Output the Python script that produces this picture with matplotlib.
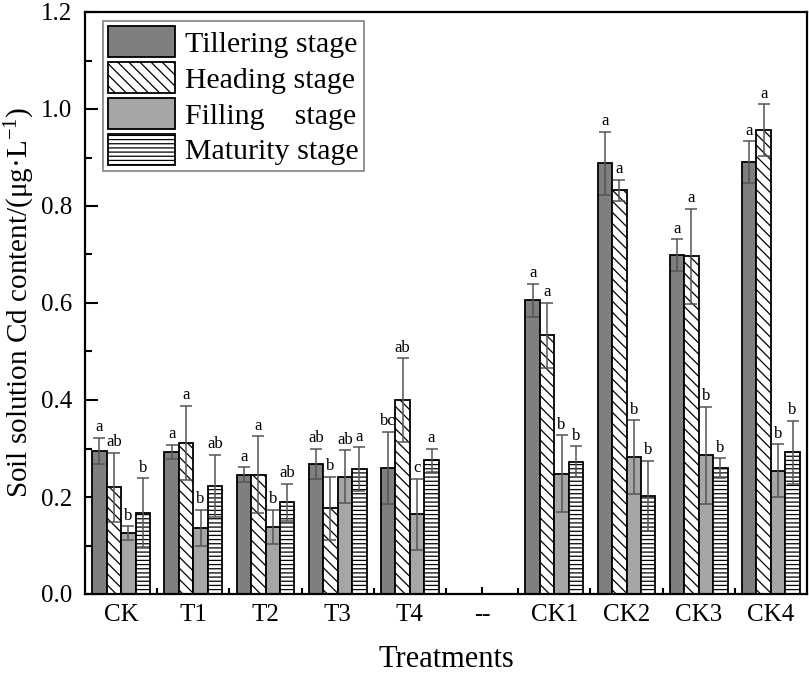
import numpy as np
import matplotlib
matplotlib.use("Agg")
import matplotlib.pyplot as plt
from matplotlib.ticker import MultipleLocator, FixedLocator

plt.rcParams['font.family'] = ['Liberation Serif', 'DejaVu Serif']
plt.rcParams['mathtext.fontset'] = 'custom'
plt.rcParams['mathtext.rm'] = 'Liberation Serif'
plt.rcParams['mathtext.default'] = 'regular'
plt.rcParams['hatch.linewidth'] = 0.9

categories = ["CK", "T1", "T2", "T3", "T4", "--", "CK1", "CK2", "CK3", "CK4"]
series = ["Tillering stage", "Heading stage", "Filling    stage", "Maturity stage"]
nan = np.nan

tillering = [0.295, 0.293, 0.246, 0.269, 0.260, nan, 0.606, 0.888, 0.698, 0.891]
heading   = [0.220, 0.312, 0.246, 0.177, 0.400, nan, 0.534, 0.832, 0.696, 0.957]
filling   = [0.126, 0.137, 0.139, 0.242, 0.164, nan, 0.248, 0.282, 0.286, 0.254]
maturity  = [0.168, 0.223, 0.189, 0.258, 0.276, nan, 0.273, 0.202, 0.260, 0.292]

tillering_err = [0.027, 0.015, 0.016, 0.031, 0.075, nan, 0.034, 0.065, 0.033, 0.043]
heading_err   = [0.071, 0.076, 0.079, 0.065, 0.086, nan, 0.067, 0.022, 0.098, 0.053]
filling_err   = [0.014, 0.037, 0.035, 0.054, 0.074, nan, 0.079, 0.076, 0.100, 0.055]
maturity_err  = [0.071, 0.064, 0.038, 0.045, 0.024, nan, 0.032, 0.073, 0.020, 0.065]

tillering_sig = ["a", "a", "a", "ab", "bc", "", "a", "a", "a", "a"]
heading_sig   = ["ab", "a", "a", "b", "ab", "", "a", "a", "a", "a"]
filling_sig   = ["b", "b", "b", "ab", "c", "", "b", "b", "b", "b"]
maturity_sig  = ["b", "ab", "ab", "a", "a", "", "b", "b", "b", "b"]

values = [tillering, heading, filling, maturity]
errors = [tillering_err, heading_err, filling_err, maturity_err]
sigs = [tillering_sig, heading_sig, filling_sig, maturity_sig]

facecolors = ["#7f7f7f", "white", "#a6a6a6", "white"]
hatches = [None, "\\\\\\", None, "----"]

fig = plt.figure(figsize=(8.09, 6.73), dpi=100)
ax = fig.add_axes([85/809, 79/673, 722/809, 582/673])

x = np.arange(len(categories))
width = 0.2
offsets = [-0.3, -0.1, 0.1, 0.3]

for i in range(4):
    xs = x + offsets[i]
    ax.bar(xs, values[i], width, color=facecolors[i], edgecolor="black",
           linewidth=1.3, hatch=hatches[i], label=series[i], zorder=2)
    ax.errorbar(xs, values[i], yerr=errors[i], fmt="none", ecolor="#555555",
                elinewidth=1.1, capsize=4, capthick=1.1, zorder=3)
    for xi, v, e, s in zip(xs, values[i], errors[i], sigs[i]):
        if s and not np.isnan(v):
            ax.text(xi, v + e + 0.005, s, ha="center", va="bottom",
                    fontsize=12, zorder=4)

ax.set_xlim(-0.5, 9.5)
ax.set_ylim(0, 1.2)
ax.set_xticks(x)
ax.set_xticklabels(categories)
ax.xaxis.set_minor_locator(FixedLocator(np.arange(0.5, 9.5, 1.0)))
ax.yaxis.set_major_locator(MultipleLocator(0.2))
ax.yaxis.set_minor_locator(MultipleLocator(0.1))
ax.yaxis.set_major_formatter(matplotlib.ticker.FormatStrFormatter("%.1f"))

ax.tick_params(axis="y", which="major", direction="in", length=9, width=1.5,
               labelsize=18, pad=9)
ax.tick_params(axis="y", which="minor", direction="in", length=5, width=1.5)
ax.tick_params(axis="x", which="major", direction="in", length=5, width=1.5,
               labelsize=18, pad=7)
ax.tick_params(axis="x", which="minor", direction="in", length=4.5, width=1.5)
ax.tick_params(axis="x", which="both", top=False)
ax.tick_params(axis="y", which="both", right=False)

for sp in ax.spines.values():
    sp.set_linewidth(1.6)

ax.set_xlabel("Treatments", fontsize=22, labelpad=14)
ax.set_ylabel("Soil solution Cd content/(μg·L$^{-1}$)", fontsize=21, labelpad=3)

leg = ax.legend(loc="upper left", bbox_to_anchor=(0.025, 0.9845), borderaxespad=0,
                fontsize=21.5, handlelength=2.24, handleheight=1.2, labelspacing=0.15,
                handletextpad=0.33, borderpad=0.18, fancybox=False, framealpha=1,
                edgecolor="#808080")
leg.get_frame().set_linewidth(1.2)

fig.savefig("out.png", dpi=100)
